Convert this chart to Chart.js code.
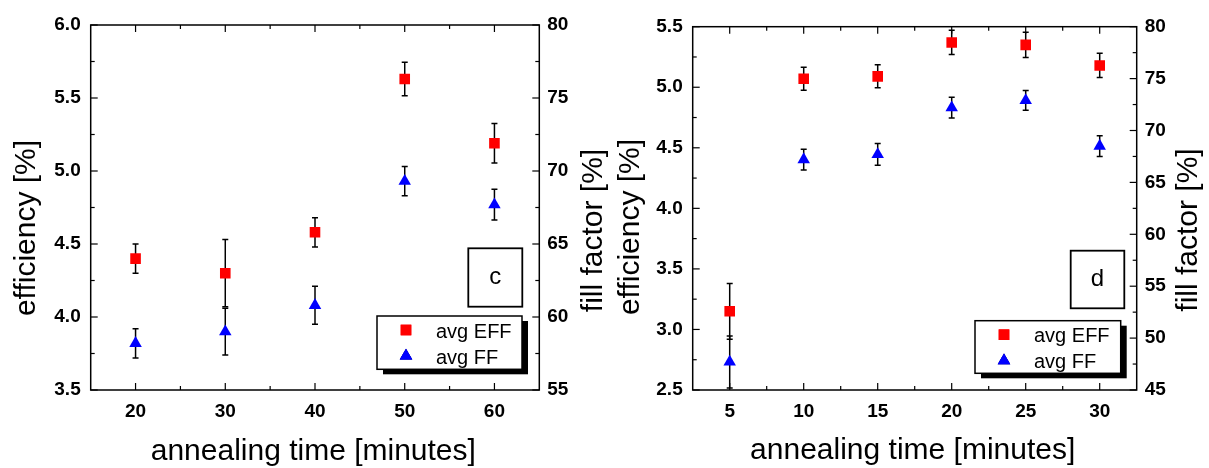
<!DOCTYPE html>
<html>
<head>
<meta charset="utf-8">
<script src="https://cdn.jsdelivr.net/npm/chart.js@4.4.1/dist/chart.umd.min.js"></script>
<style>
    body { margin: 0; background: #fff; }
    #wrap { position: relative; width: 1209px; height: 468px; overflow: hidden; }
    canvas { position: absolute; top: 0; }
    #chartC { left: 0; }
    #chartD { left: 600px; }
</style>
</head>
<body>
<div id="wrap">
    <canvas id="chartC" width="620" height="468"></canvas>
    <canvas id="chartD" width="609" height="468"></canvas>
</div>
<script>
"use strict";

// パネル c のデータ
const timeC = [20, 30, 40, 50, 60];
const effC = [4.40, 4.30, 4.58, 5.63, 5.19];
const effErrC = [0.10, 0.23, 0.10, 0.115, 0.135];
const ffC = [58.2, 59.0, 60.8, 69.3, 67.7];
const ffErrC = [1.0, 1.6, 1.3, 1.0, 1.05];
const xTicksC = [20, 30, 40, 50, 60];
const effTicksC = [3.5, 4.0, 4.5, 5.0, 5.5, 6.0];
const ffTicksC = [55, 60, 65, 70, 75, 80];

// パネル d のデータ
const timeD = [5, 10, 15, 20, 25, 30];
const effD = [3.15, 5.07, 5.09, 5.37, 5.35, 5.18];
const effErrD = [0.23, 0.095, 0.095, 0.10, 0.105, 0.10];
const ffD = [47.7, 67.2, 67.7, 72.2, 72.9, 68.5];
const ffErrD = [2.5, 1.0, 1.05, 1.0, 0.95, 1.0];
const xTicksD = [5, 10, 15, 20, 25, 30];
const effTicksD = [2.5, 3.0, 3.5, 4.0, 4.5, 5.0, 5.5];
const ffTicksD = [45, 50, 55, 60, 65, 70, 75, 80];

const seriesLabels = ["avg EFF", "avg FF"];
const xTitle = "annealing time [minutes]";
const yTitle = "efficiency [%]";
const y2Title = "fill factor [%]";

const FONT = "'Liberation Sans', Arial, sans-serif";

const toPoints = (xs, ys) => xs.map((x, i) => ({ x: x, y: ys[i] }));

// エラーバー(データセットの前に描く)
const errorBarPlugin = {
    id: "errorBars",
    beforeDatasetsDraw(chart) {
        const ctx = chart.ctx;
        const area = chart.chartArea;
        ctx.save();
        ctx.beginPath();
        ctx.rect(area.left, area.top, area.right - area.left, area.bottom - area.top);
        ctx.clip();
        ctx.strokeStyle = "#000";
        ctx.lineWidth = 1.5;
        chart.data.datasets.forEach((ds) => {
            const xs = chart.scales.x;
            const ys = chart.scales[ds.yAxisID];
            ds.data.forEach((p, i) => {
                const err = ds.errors[i];
                const px = xs.getPixelForValue(p.x);
                const top = ys.getPixelForValue(p.y + err);
                const bot = ys.getPixelForValue(p.y - err);
                ctx.beginPath();
                ctx.moveTo(px, top);
                ctx.lineTo(px, bot);
                ctx.moveTo(px - 3, top);
                ctx.lineTo(px + 3, top);
                ctx.moveTo(px - 3, bot);
                ctx.lineTo(px + 3, bot);
                ctx.stroke();
            });
        });
        ctx.restore();
    },
};

// 目盛り(内向き)を描く
const drawTicks = (ctx, scale, side, area) => {
    const vals = scale.ticks.map((t) => t.value);
    const minor = [];
    for (let i = 0; i < vals.length - 1; i++) minor.push((vals[i] + vals[i + 1]) / 2);
    const step = vals[1] - vals[0];
    if (vals[0] - step / 2 > scale.min) minor.push(vals[0] - step / 2);
    if (vals[vals.length - 1] + step / 2 < scale.max) minor.push(vals[vals.length - 1] + step / 2);
    const mark = (v, len) => {
        const p = scale.getPixelForValue(v);
        ctx.beginPath();
        if (side === "bottom") {
            ctx.moveTo(p, area.bottom); ctx.lineTo(p, area.bottom - len);
            ctx.moveTo(p, area.top); ctx.lineTo(p, area.top + len);
        } else if (side === "left") {
            ctx.moveTo(area.left, p); ctx.lineTo(area.left + len, p);
        } else {
            ctx.moveTo(area.right, p); ctx.lineTo(area.right - len, p);
        }
        ctx.stroke();
    };
    vals.forEach((v) => mark(v, 7));
    minor.forEach((v) => mark(v, 4));
};

// 枠・目盛り・凡例・ラベル・軸タイトル
const decorPlugin = {
    id: "decor",
    afterDraw(chart, args, opts) {
        const ctx = chart.ctx;
        const area = chart.chartArea;
        ctx.save();
        ctx.strokeStyle = "#000";
        ctx.lineWidth = 1.5;
        ctx.strokeRect(area.left, area.top, area.right - area.left, area.bottom - area.top);
        ctx.lineWidth = 1.2;
        drawTicks(ctx, chart.scales.x, "bottom", area);
        drawTicks(ctx, chart.scales.y, "left", area);
        drawTicks(ctx, chart.scales.y2, "right", area);

        // パネル名の枠
        const pb = opts.panelBox;
        ctx.lineWidth = 1.8;
        ctx.fillStyle = "#fff";
        ctx.fillRect(pb.x, pb.y, pb.w, pb.h);
        ctx.strokeRect(pb.x, pb.y, pb.w, pb.h);
        ctx.fillStyle = "#000";
        ctx.font = "24px " + FONT;
        ctx.textAlign = "center";
        ctx.textBaseline = "middle";
        ctx.fillText(opts.panel, pb.x + pb.w / 2, pb.y + pb.h / 2);

        // 凡例(影つき)
        const lb = opts.legendBox;
        ctx.fillStyle = "#000";
        ctx.fillRect(lb.x + 6, lb.y + 5, lb.w, lb.h);
        ctx.fillStyle = "#fff";
        ctx.fillRect(lb.x, lb.y, lb.w, lb.h);
        ctx.lineWidth = 1.5;
        ctx.strokeRect(lb.x, lb.y, lb.w, lb.h);
        ctx.font = "20px " + FONT;
        ctx.textAlign = "left";
        ctx.textBaseline = "alphabetic";
        chart.data.datasets.forEach((ds, i) => {
            const my = lb.y + 14 + i * 26;
            Chart.helpers.drawPoint(ctx, {
                pointStyle: ds.pointStyle,
                radius: ds.pointRadius,
                borderWidth: 0,
            }, lb.x + 29, my);
            ctx.fillStyle = ds.backgroundColor;
            ctx.beginPath();
            Chart.helpers.drawPoint(ctx, {
                pointStyle: ds.pointStyle,
                radius: ds.pointRadius,
                borderWidth: 0,
            }, lb.x + 29, my);
            ctx.fill();
            ctx.fillStyle = "#000";
            ctx.fillText(ds.label, lb.x + 59, my + 7.5);
        });

        // 軸タイトル
        ctx.font = "30px " + FONT;
        ctx.fillStyle = "#000";
        ctx.textAlign = "center";
        ctx.textBaseline = "alphabetic";
        ctx.fillText(xTitle, opts.xTitlePos[0], opts.xTitlePos[1]);
        ctx.textBaseline = "middle";
        [[yTitle, opts.yTitlePos], [y2Title, opts.y2TitlePos]].forEach(([txt, pos]) => {
            ctx.save();
            ctx.translate(pos[0], pos[1]);
            ctx.rotate(-Math.PI / 2);
            ctx.fillText(txt, 0, 0);
            ctx.restore();
        });
        ctx.restore();
    },
};

const tickFont = { family: FONT, size: 19, weight: "bold" };

const makeScale = (min, max, ticks, position, fit, fmt, pad) => ({
    type: "linear",
    position: position,
    min: min,
    max: max,
    grid: { display: false, drawTicks: false },
    border: { display: false },
    afterBuildTicks: (axis) => {
        axis.ticks = ticks.map((v) => ({ value: v }));
    },
    afterFit: fit,
    ticks: {
        color: "#000",
        font: tickFont,
        padding: pad,
        callback: fmt,
    },
});

const buildChart = (canvasId, cfg) => {
    const context = document.getElementById(canvasId).getContext("2d");
    return new Chart(context, {
        type: "scatter",
        data: {
            datasets: [
                {
                    label: seriesLabels[0],
                    data: toPoints(cfg.time, cfg.eff),
                    errors: cfg.effErr,
                    yAxisID: "y",
                    pointStyle: "rect",
                    pointRadius: 7.5,
                    pointBorderWidth: 0,
                    backgroundColor: "#ff0000",
                    borderColor: "#ff0000",
                },
                {
                    label: seriesLabels[1],
                    data: toPoints(cfg.time, cfg.ff),
                    errors: cfg.ffErr,
                    yAxisID: "y2",
                    pointStyle: "triangle",
                    pointRadius: 7.2,
                    pointBorderWidth: 0,
                    backgroundColor: "#0000ff",
                    borderColor: "#0000ff",
                },
            ],
        },
        options: {
            responsive: false,
            animation: false,
            devicePixelRatio: 1,
            layout: { padding: { top: cfg.top, left: 0, right: 0, bottom: 0 } },
            plugins: {
                legend: { display: false },
                tooltip: { enabled: false },
                decor: cfg.decor,
            },
            scales: {
                x: makeScale(cfg.xMin, cfg.xMax, cfg.xTicks, "bottom",
                    (s) => { s.height = cfg.bottomH; }, (v) => String(v), 10),
                y: makeScale(cfg.yMin, cfg.yMax, cfg.yTicks, "left",
                    (s) => { s.width = cfg.leftW; }, (v) => v.toFixed(1), 10),
                y2: makeScale(cfg.y2Min, cfg.y2Max, cfg.y2Ticks, "right",
                    (s) => { s.width = cfg.rightW; }, (v) => String(v), 8),
            },
        },
        plugins: [errorBarPlugin, decorPlugin],
    });
};

buildChart("chartC", {
    time: timeC, eff: effC, effErr: effErrC, ff: ffC, ffErr: ffErrC,
    xMin: 15, xMax: 65, xTicks: xTicksC,
    yMin: 3.5, yMax: 6.0, yTicks: effTicksC,
    y2Min: 55, y2Max: 80, y2Ticks: ffTicksC,
    top: 25, bottomH: 78, leftW: 90.7, rightW: 80.7,
    decor: {
        panel: "c",
        panelBox: { x: 468.3, y: 248.3, w: 54, h: 58.4 },
        legendBox: { x: 377, y: 316, w: 145, h: 53.3 },
        xTitlePos: [313.3, 460],
        yTitlePos: [26.5, 228],
        y2TitlePos: [594, 230.5],
    },
});

buildChart("chartD", {
    time: timeD, eff: effD, effErr: effErrD, ff: ffD, ffErr: ffErrD,
    xMin: 2.5, xMax: 32.5, xTicks: xTicksD,
    yMin: 2.5, yMax: 5.5, yTicks: effTicksD,
    y2Min: 45, y2Max: 80, y2Ticks: ffTicksD,
    top: 26.7, bottomH: 78, leftW: 92.7, rightW: 72.3,
    decor: {
        panel: "d",
        panelBox: { x: 470.7, y: 250.7, w: 53.6, h: 57.6 },
        legendBox: { x: 375, y: 320.7, w: 145.7, h: 52.6 },
        xTitlePos: [312.7, 459],
        yTitlePos: [30.5, 227],
        y2TitlePos: [589, 230],
    },
});
</script>
</body>
</html>
